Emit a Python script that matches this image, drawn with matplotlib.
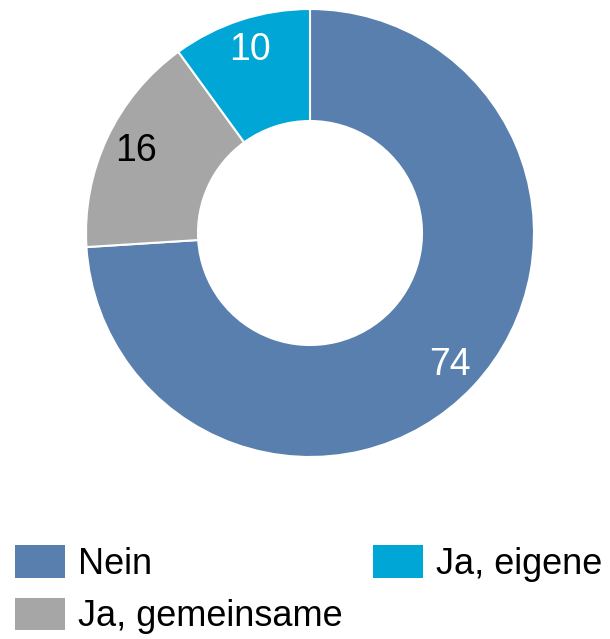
import matplotlib
matplotlib.use('Agg')
import matplotlib.pyplot as plt
from matplotlib.patches import Patch
import numpy as np

plt.rcParams['font.family'] = ['Liberation Sans', 'DejaVu Sans']

# Data
labels = ['Nein', 'Ja, gemeinsame', 'Ja, eigene']
values = [74, 16, 10]
colors = ['#587fae', '#a6a6a6', '#00a6d6']
text_colors = ['white', 'black', 'white']

fig = plt.figure(figsize=(6.10, 6.39), dpi=100)
ax = fig.add_axes([86 / 610, 182 / 639, 448 / 610, 448 / 639])

wedges, _ = ax.pie(values, colors=colors, startangle=90, counterclock=False,
                   radius=1, wedgeprops=dict(width=0.5, edgecolor='white', linewidth=1.5))

# value labels inside the ring
for w, v, tc in zip(wedges, values, text_colors):
    ang = np.deg2rad((w.theta1 + w.theta2) / 2)
    r = 0.86
    ax.text(r * np.cos(ang), r * np.sin(ang), str(v), ha='center', va='center',
            fontsize=27, color=tc)

ax.set_xlim(-1, 1)
ax.set_ylim(-1, 1)
ax.set_aspect('equal')
ax.axis('off')

handles = [Patch(facecolor=c, edgecolor='none') for c in colors]
fig.legend(handles, labels, loc='upper left', bbox_to_anchor=(15 / 610, 1 - 545 / 639),
           ncol=2, frameon=False, fontsize=26, handlelength=1.385, handleheight=1.02,
           handletextpad=0.36, columnspacing=0.83, labelspacing=0.44,
           borderaxespad=0, borderpad=0)

fig.savefig('out.png', dpi=100)
